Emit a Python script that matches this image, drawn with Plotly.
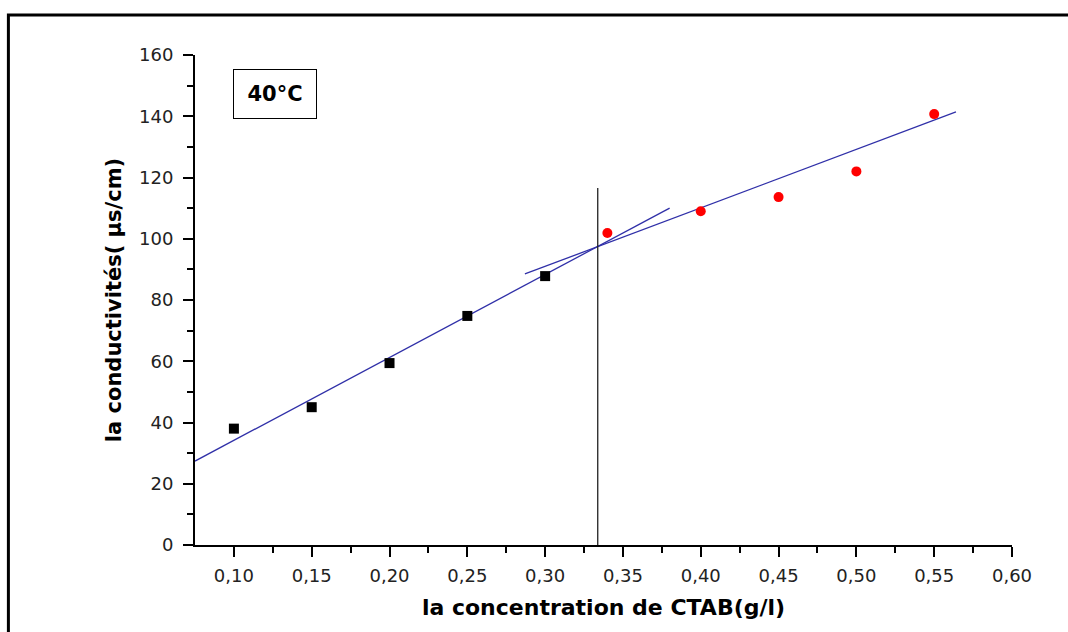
import plotly.graph_objects as go

# Data
x_premicelle = [0.10, 0.15, 0.20, 0.25, 0.30]
y_premicelle = [38.0, 45.0, 59.4, 74.8, 87.8]
x_postmicelle = [0.34, 0.40, 0.45, 0.50, 0.55]
y_postmicelle = [101.9, 109.0, 113.6, 122.0, 140.7]

fit1_x = [0.075, 0.380]
fit1_y = [27.4, 110.0]
fit2_x = [0.287, 0.564]
fit2_y = [88.5, 141.4]

cmc_x = [0.3338, 0.3338]
cmc_y = [0.0, 116.6]

x_ticks = [0.10, 0.15, 0.20, 0.25, 0.30, 0.35, 0.40, 0.45, 0.50, 0.55, 0.60]
x_ticklabels = ["0,10", "0,15", "0,20", "0,25", "0,30", "0,35", "0,40", "0,45", "0,50", "0,55", "0,60"]
y_ticks = [0, 20, 40, 60, 80, 100, 120, 140, 160]

fig = go.Figure()

line_color = "#3030a8"
fig.add_trace(go.Scatter(x=fit1_x, y=fit1_y, mode="lines",
                         line=dict(color=line_color, width=1.3), showlegend=False))
fig.add_trace(go.Scatter(x=fit2_x, y=fit2_y, mode="lines",
                         line=dict(color=line_color, width=1.3), showlegend=False))
fig.add_trace(go.Scatter(x=cmc_x, y=cmc_y, mode="lines",
                         line=dict(color="#222222", width=1.3), showlegend=False))
fig.add_trace(go.Scatter(x=x_premicelle, y=y_premicelle, mode="markers",
                         marker=dict(symbol="square", size=10, color="black"),
                         showlegend=False))
fig.add_trace(go.Scatter(x=x_postmicelle, y=y_postmicelle, mode="markers",
                         marker=dict(symbol="circle", size=10, color="#ff0000"),
                         showlegend=False))

axis_font = dict(family="DejaVu Sans, Arial, sans-serif", size=18, color="#222222")
xtitle_font = dict(family="DejaVu Sans, Arial, sans-serif", size=22, color="black")
ytitle_font = dict(family="DejaVu Sans, Arial, sans-serif", size=21, color="black")

fig.update_xaxes(
    range=[0.075, 0.60], tickvals=x_ticks, ticktext=x_ticklabels,
    showgrid=False, zeroline=False, showline=True, linecolor="black", linewidth=2,
    ticks="outside", ticklen=10, tickwidth=2, tickcolor="black",
    minor=dict(tickvals=[0.125, 0.175, 0.225, 0.275, 0.325, 0.375, 0.425, 0.475, 0.525, 0.575],
               ticks="outside", ticklen=6, tickwidth=2, tickcolor="black"),
    tickfont=axis_font, ticklabelstandoff=3,
    title=dict(text="<b>la concentration de CTAB(g/l)</b>", font=xtitle_font, standoff=15),
)
fig.update_yaxes(
    range=[0, 160], tickvals=y_ticks,
    showgrid=False, zeroline=False, showline=True, linecolor="black", linewidth=2,
    ticks="outside", ticklen=10, tickwidth=2, tickcolor="black",
    minor=dict(tickvals=[10, 30, 50, 70, 90, 110, 130, 150],
               ticks="outside", ticklen=6, tickwidth=2, tickcolor="black"),
    tickfont=axis_font, ticklabelstandoff=6,
    title=dict(text="<b>la conductivités( µs/cm)</b>", font=ytitle_font, standoff=12),
)

fig.add_annotation(
    x=0.098, y=0.92, xref="paper", yref="paper", xanchor="center", yanchor="middle",
    text="<b>40°C</b>", showarrow=False,
    font=dict(family="DejaVu Sans, Arial, sans-serif", size=21, color="black"),
    bordercolor="black", borderwidth=1, borderpad=1, width=80, height=46,
    bgcolor="white",
)

# outer frame (only top and left visible in the picture)
fig.add_shape(type="rect", xref="paper", yref="paper",
              x0=-0.2284, y0=-0.25, x1=1.1, y1=1.0816,
              line=dict(color="black", width=3), layer="below")

fig.update_layout(
    width=1068, height=632,
    margin=dict(l=195, r=56, t=55, b=87),
    paper_bgcolor="white", plot_bgcolor="white",
)

fig.write_html("out.html")
